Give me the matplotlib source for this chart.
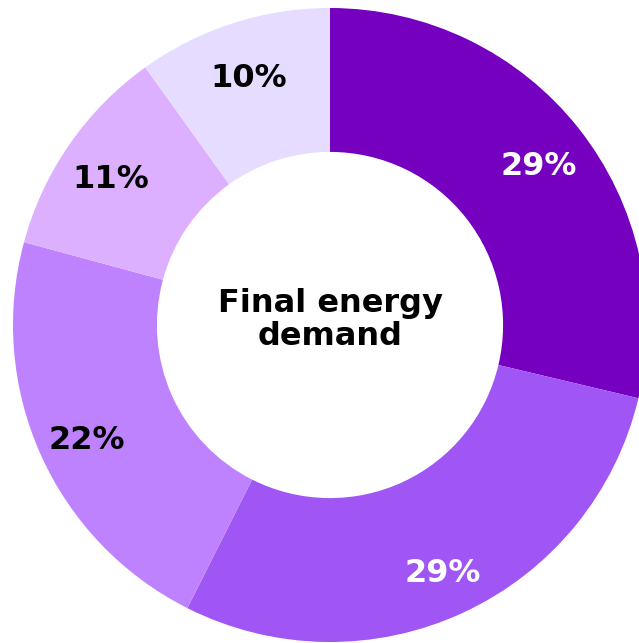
import matplotlib.pyplot as plt

# Final energy demand shares, clockwise from 12 o'clock
shares = [29, 29, 22, 11, 10]
colors = ['#7500C0', '#A055F5', '#BE82FF', '#DCAFFF', '#E6DCFF']
label_colors = ['white', 'white', 'black', 'black', 'black']
center_text = 'Final energy\ndemand'

fig = plt.figure(figsize=(6.39, 6.43), dpi=100)
ax = fig.add_axes([0, 0, 1, 1])

wedges, texts = ax.pie(
    shares,
    labels=[f'{v}%' for v in shares],
    colors=colors,
    startangle=90,
    counterclock=False,
    radius=1.0,
    labeldistance=0.84,
    wedgeprops=dict(width=0.454, edgecolor='none'),
    textprops=dict(fontsize=23, fontweight='bold', family='DejaVu Sans'),
)
for t, c in zip(texts, label_colors):
    t.set_color(c)
    t.set_ha('center')
    t.set_va('center_baseline')
    x, y = t.get_position()
    t.set_position((x, y - 0.01))

ax.text(0, 0.015, center_text, ha='center', va='center', fontsize=23,
        fontweight='bold', family='DejaVu Sans', linespacing=1.08)

ax.set_aspect('auto')
ax.set_xlim(-330 / 317, 309 / 317)
ax.set_ylim(-318 / 317, 325 / 317)
ax.axis('off')

fig.savefig('out.png', dpi=100)
